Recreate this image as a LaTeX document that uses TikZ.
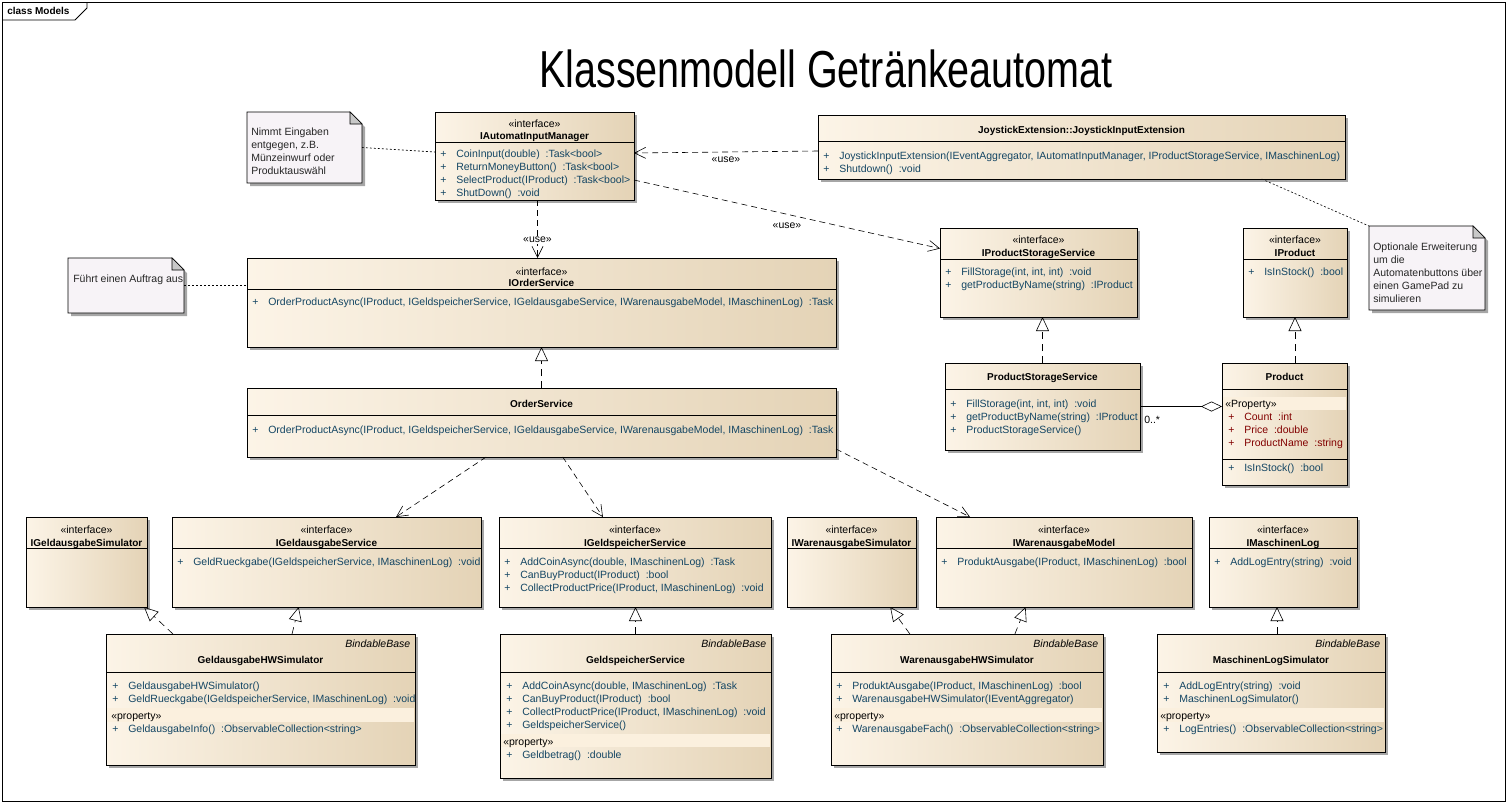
\documentclass[tikz,border=0pt]{standalone}
\usepackage{fontspec}
\setmainfont{Liberation Sans}
\newfontfamily\titlefont[FakeStretch=0.76]{Liberation Sans}
\usetikzlibrary{arrows.meta,calc,positioning,shadows}

\definecolor{clsL}{RGB}{252,244,231}
\definecolor{clsR}{RGB}{228,211,182}
\definecolor{notebg}{RGB}{247,243,247}
\definecolor{foldgray}{RGB}{200,200,200}
\definecolor{opcol}{RGB}{20,70,100}
\definecolor{attrcol}{RGB}{130,0,0}
\definecolor{bandcol}{RGB}{251,240,222}

\newcommand{\umlfont}{\fontsize{10.5}{13}\selectfont}
\newcommand{\namefont}{\fontsize{10}{13}\selectfont\bfseries}
\newcommand{\vis}{\makebox[16pt][l]{+}}

\begin{document}
\begin{tikzpicture}[x=1pt, y=-1pt, font=\umlfont, line width=0.6pt,
  cls/.style={draw, line width=0.8pt, left color=clsL, right color=clsR,
    anchor=north west, inner sep=0pt, outer sep=0pt,
    drop shadow={shadow xshift=3pt, shadow yshift=-3pt, fill=black!35, opacity=1}},
  notebox/.style={anchor=north west, inner sep=0pt, outer sep=0pt},
  notepaper/.style={fill=notebg, draw, line width=0.8pt,
    drop shadow={shadow xshift=3pt, shadow yshift=-3pt, fill=black!35, opacity=1}},
  notetext/.style={anchor=north west, inner sep=0pt, align=left, text=black!85},
  stereo/.style={anchor=base, inner sep=0pt},
  cname/.style={anchor=base, inner sep=0pt, font=\namefont},
  bindable/.style={anchor=base east, inner sep=0pt, font=\umlfont\itshape},
  ops/.style={anchor=north west, inner sep=0pt, align=left, text=opcol},
  attrs/.style={anchor=north west, inner sep=0pt, align=left, text=attrcol},
  propname/.style={anchor=base west, inner sep=0pt},
  divider/.style={line width=0.8pt},
  propband/.style={fill=bandcol},
  uselbl/.style={inner sep=1pt},
  depend/.style={dash pattern=on 6pt off 4pt, -{Straight Barb[length=11pt, width=11pt]}},
  realize/.style={dash pattern=on 7pt off 5pt, -{Triangle[open, length=14pt, width=13pt]}},
  aggreg/.style={-{Diamond[open, length=21pt, width=10pt]}},
  notelink/.style={dash pattern=on 2pt off 2pt}]

  \useasboundingbox (0,0) rectangle (1509,804);

  % frame
  \draw[line width=0.8pt] (2,2) rectangle (1505,801);
  \draw[line width=0.8pt] (2,20) -- (75,20) -- (87,8) -- (87,2);
  \node (frametag) at (7,14.5) [anchor=base west, inner sep=0pt, font=\namefont] {class Models};

  \node (title) at (826,87) [anchor=base, inner sep=0pt, font={\titlefont\fontsize{52}{60}\selectfont}] {Klassenmodell Getränkeautomat};

  % notes
  \node (note1) at (247,112) [notebox, minimum width=115pt, minimum height=71pt] {};
  \node (note2) at (1369,226) [notebox, minimum width=116pt, minimum height=84pt] {};
  \node (note3) at (68,258) [notebox, minimum width=116pt, minimum height=55pt] {};
  \foreach \n in {note1,note2,note3} {
    \filldraw[notepaper] (\n.north west) -- ([xshift=-12pt]\n.north east) -- ([yshift=-12pt]\n.north east)
      -- (\n.south east) -- (\n.south west) -- cycle;
    \filldraw[fill=foldgray] ([xshift=-12pt]\n.north east) -- ([xshift=-12pt, yshift=-12pt]\n.north east)
      -- ([yshift=-12pt]\n.north east) -- cycle;
  }
  \node (note1-txt) at (251,126.4) [notetext] {\strut Nimmt Eingaben\\entgegen, z.B.\\Münzeinwurf oder\\Produktauswähl};
  \node (note2-txt) at (1373,241.4) [notetext] {\strut Optionale Erweiterung\\um die\\Automatenbuttons über\\einen GamePad zu\\simulieren};
  \node (note3-txt) at (73,273.4) [notetext] {\strut Führt einen Auftrag aus};

  % IAutomatInputManager
  \node (ioim) at (435,112) [cls, minimum width=199pt, minimum height=88pt] {};
  \node (ioim-st) at (534.5,127.3) [stereo] {«interface»};
  \node (ioim-nm) at (534.5,139.8) [cname] {IAutomatInputManager};
  \draw[divider] (435,142.3) -- (634,142.3);
  \node (ioim-op) at (440,147.7) [ops] {\strut\vis CoinInput(double)~~:Task<bool>\\\vis ReturnMoneyButton()~~:Task<bool>\\\vis SelectProduct(IProduct)~~:Task<bool>\\\vis ShutDown()~~:void};

  % JoystickInputExtension
  \node (joy) at (818,115) [cls, minimum width=527pt, minimum height=64pt] {};
  \node (joy-nm) at (1081.5,133.5) [cname] {JoystickExtension::JoystickInputExtension};
  \draw[divider] (818,141.7) -- (1345,141.7);
  \node (joy-op) at (823,150.4) [ops] {\strut\vis JoystickInputExtension(IEventAggregator, IAutomatInputManager, IProductStorageService, IMaschinenLog)\\\vis Shutdown()~~:void};

  % IProductStorageService
  \node (ipss) at (940,228) [cls, minimum width=197pt, minimum height=89pt] {};
  \node (ipss-st) at (1038.5,243.7) [stereo] {«interface»};
  \node (ipss-nm) at (1038.5,256.8) [cname] {IProductStorageService};
  \draw[divider] (940,259.3) -- (1137,259.3);
  \node (ipss-op) at (945,266.1) [ops] {\strut\vis FillStorage(int, int, int)~~:void\\\vis getProductByName(string)~~:IProduct};

  % IProduct
  \node (iprod) at (1243,228) [cls, minimum width=104pt, minimum height=89pt] {};
  \node (iprod-st) at (1295,243.7) [stereo] {«interface»};
  \node (iprod-nm) at (1295,256.8) [cname] {IProduct};
  \draw[divider] (1243,259.3) -- (1347,259.3);
  \node (iprod-op) at (1248,266.1) [ops] {\strut\vis IsInStock()~~:bool};

  % ProductStorageService
  \node (pss) at (945,363) [cls, minimum width=195pt, minimum height=87pt] {};
  \node (pss-nm) at (1042.5,380.5) [cname] {ProductStorageService};
  \draw[divider] (945,389) -- (1140,389);
  \node (pss-op) at (950,397.7) [ops] {\strut\vis FillStorage(int, int, int)~~:void\\\vis getProductByName(string)~~:IProduct\\\vis ProductStorageService()};

  % Product
  \node (prod) at (1222,363) [cls, minimum width=125pt, minimum height=122pt] {};
  \node (prod-nm) at (1284.5,380.5) [cname] {Product};
  \draw[divider] (1222,389) -- (1347,389);
  \fill[propband] (1223,397) rectangle (1346,410);
  \node (prod-pr) at (1225,407.5) [propname] {«Property»};
  \node (prod-at) at (1228,411.4) [attrs] {\strut\vis Count~~:int\\\vis Price~~:double\\\vis ProductName~~:string};
  \draw[divider] (1222,459) -- (1347,459);
  \node (prod-op) at (1228,462.4) [ops] {\strut\vis IsInStock()~~:bool};

  % IOrderService
  \node (iord) at (247,258) [cls, minimum width=589pt, minimum height=89pt] {};
  \node (iord-st) at (541.5,275) [stereo] {«interface»};
  \node (iord-nm) at (541.5,286.5) [cname] {IOrderService};
  \draw[divider] (247,289.3) -- (836,289.3);
  \node (iord-op) at (252,296.1) [ops] {\strut\vis OrderProductAsync(IProduct, IGeldspeicherService, IGeldausgabeService, IWarenausgabeModel, IMaschinenLog)~~:Task};

  % OrderService
  \node (ord) at (247,388) [cls, minimum width=589pt, minimum height=69pt] {};
  \node (ord-nm) at (541.5,407.5) [cname] {OrderService};
  \draw[divider] (247,415) -- (836,415);
  \node (ord-op) at (252,424.4) [ops] {\strut\vis OrderProductAsync(IProduct, IGeldspeicherService, IGeldausgabeService, IWarenausgabeModel, IMaschinenLog)~~:Task};

  % interfaces, bottom row
  \node (igsim) at (26,517) [cls, minimum width=121pt, minimum height=90pt] {};
  \node (igsim-st) at (86.5,533.7) [stereo] {«interface»};
  \node (igsim-nm) at (86.5,546.2) [cname] {IGeldausgabeSimulator};
  \draw[divider] (26,548.3) -- (147,548.3);

  \node (igsvc) at (172,517) [cls, minimum width=309pt, minimum height=90pt] {};
  \node (igsvc-st) at (326.5,533.7) [stereo] {«interface»};
  \node (igsvc-nm) at (326.5,546.2) [cname] {IGeldausgabeService};
  \draw[divider] (172,548.3) -- (481,548.3);
  \node (igsvc-op) at (177,555.6) [ops] {\strut\vis GeldRueckgabe(IGeldspeicherService, IMaschinenLog)~~:void};

  \node (igsp) at (499,517) [cls, minimum width=272pt, minimum height=90pt] {};
  \node (igsp-st) at (635,533.7) [stereo] {«interface»};
  \node (igsp-nm) at (635,546.2) [cname] {IGeldspeicherService};
  \draw[divider] (499,548.3) -- (771,548.3);
  \node (igsp-op) at (504,555.6) [ops] {\strut\vis AddCoinAsync(double, IMaschinenLog)~~:Task\\\vis CanBuyProduct(IProduct)~~:bool\\\vis CollectProductPrice(IProduct, IMaschinenLog)~~:void};

  \node (iwsim) at (787,517) [cls, minimum width=129pt, minimum height=90pt] {};
  \node (iwsim-st) at (851.5,533.7) [stereo] {«interface»};
  \node (iwsim-nm) at (851.5,546.2) [cname] {IWarenausgabeSimulator};
  \draw[divider] (787,548.3) -- (916,548.3);

  \node (iwmod) at (936,517) [cls, minimum width=256pt, minimum height=90pt] {};
  \node (iwmod-st) at (1064,533.7) [stereo] {«interface»};
  \node (iwmod-nm) at (1064,546.2) [cname] {IWarenausgabeModel};
  \draw[divider] (936,548.3) -- (1192,548.3);
  \node (iwmod-op) at (941,555.6) [ops] {\strut\vis ProduktAusgabe(IProduct, IMaschinenLog)~~:bool};

  \node (imlog) at (1209,517) [cls, minimum width=148pt, minimum height=90pt] {};
  \node (imlog-st) at (1283,533.7) [stereo] {«interface»};
  \node (imlog-nm) at (1283,546.2) [cname] {IMaschinenLog};
  \draw[divider] (1209,548.3) -- (1357,548.3);
  \node (imlog-op) at (1214,555.6) [ops] {\strut\vis AddLogEntry(string)~~:void};

  % implementations, bottom row
  \node (ghws) at (106,634) [cls, minimum width=309pt, minimum height=131pt] {};
  \node (ghws-bb) at (410.5,647.5) [bindable] {BindableBase};
  \node (ghws-nm) at (260.5,663.5) [cname] {GeldausgabeHWSimulator};
  \draw[divider] (106,672) -- (415,672);
  \node (ghws-op) at (112,680.4) [ops] {\strut\vis GeldausgabeHWSimulator()\\\vis GeldRueckgabe(IGeldspeicherService, IMaschinenLog)~~:void};
  \fill[propband] (107,708) rectangle (414,722);
  \node (ghws-pr) at (111,719) [propname] {«property»};
  \node (ghws-pp) at (112,723.4) [ops] {\strut\vis GeldausgabeInfo()~~:ObservableCollection<string>};

  \node (gsvc) at (500,634) [cls, minimum width=271pt, minimum height=144pt] {};
  \node (gsvc-bb) at (766.5,647.5) [bindable] {BindableBase};
  \node (gsvc-nm) at (635.5,663.5) [cname] {GeldspeicherService};
  \draw[divider] (500,672) -- (771,672);
  \node (gsvc-op) at (506,680.4) [ops] {\strut\vis AddCoinAsync(double, IMaschinenLog)~~:Task\\\vis CanBuyProduct(IProduct)~~:bool\\\vis CollectProductPrice(IProduct, IMaschinenLog)~~:void\\\vis GeldspeicherService()};
  \fill[propband] (501,734) rectangle (770,747);
  \node (gsvc-pr) at (503,745) [propname] {«property»};
  \node (gsvc-pp) at (506,749.4) [ops] {\strut\vis Geldbetrag()~~:double};

  \node (whws) at (831,634) [cls, minimum width=272pt, minimum height=131pt] {};
  \node (whws-bb) at (1098.5,647.5) [bindable] {BindableBase};
  \node (whws-nm) at (967,663.5) [cname] {WarenausgabeHWSimulator};
  \draw[divider] (831,672) -- (1103,672);
  \node (whws-op) at (836,680.4) [ops] {\strut\vis ProduktAusgabe(IProduct, IMaschinenLog)~~:bool\\\vis WarenausgabeHWSimulator(IEventAggregator)};
  \fill[propband] (832,708) rectangle (1102,722);
  \node (whws-pr) at (834,719) [propname] {«property»};
  \node (whws-pp) at (836,723.4) [ops] {\strut\vis WarenausgabeFach()~~:ObservableCollection<string>};

  \node (mlsim) at (1157,634) [cls, minimum width=228pt, minimum height=118pt] {};
  \node (mlsim-bb) at (1380.5,647.5) [bindable] {BindableBase};
  \node (mlsim-nm) at (1271,663.5) [cname] {MaschinenLogSimulator};
  \draw[divider] (1157,672) -- (1385,672);
  \node (mlsim-op) at (1163,680.4) [ops] {\strut\vis AddLogEntry(string)~~:void\\\vis MaschinenLogSimulator()};
  \fill[propband] (1158,708) rectangle (1384,722);
  \node (mlsim-pr) at (1160,719) [propname] {«property»};
  \node (mlsim-pp) at (1163,723.4) [ops] {\strut\vis LogEntries()~~:ObservableCollection<string>};

  % note links
  \draw[notelink] (note1.east) -- ([yshift=4pt]ioim.west);
  \draw[notelink] (note3.east) -- (note3.east -| iord.west);
  \draw[notelink] ($(joy.south west)!0.842!(joy.south east)$) -- (note2.north west);

  % use dependencies
  \draw[depend] ([yshift=-4pt]joy.west) -- ([yshift=3pt]ioim.east)
    node (use1) [uselbl, midway, below=4pt] {«use»};
  \draw[depend] ([xshift=3pt]ioim.south) -- ([xshift=3pt]ioim.south |- iord.north)
    node (use2) [uselbl, pos=0.69, fill=white] {«use»};
  \draw[depend] ([yshift=-24pt]ioim.east) -- ([yshift=24pt]ipss.west)
    node (use3) [uselbl, midway, below=7pt] {«use»};
  \draw[depend] ($(ord.south west)!0.406!(ord.south east)$) -- ($(igsvc.north west)!0.725!(igsvc.north east)$);
  \draw[depend] ($(ord.south west)!0.536!(ord.south east)$) -- ($(igsp.north west)!0.382!(igsp.north east)$);
  \draw[depend] ([yshift=8pt]ord.south east) -- ($(iwmod.north west)!0.133!(iwmod.north east)$);

  % realizations
  \draw[realize] (ord.north) -- (iord.south);
  \draw[realize] (pss.north) -- (pss.north |- ipss.south);
  \draw[realize] (iprod.south |- prod.north) -- (iprod.south);
  \draw[realize] (gsvc.north) -- (gsvc.north |- igsp.south);
  \draw[realize] ([xshift=67pt]ghws.north west) -- ([xshift=-3pt]igsim.south east);
  \draw[realize] ($(ghws.north west)!0.602!(ghws.north east)$) -- ($(igsvc.south west)!0.41!(igsvc.south east)$);
  \draw[realize] ($(whws.north west)!0.29!(whws.north east)$) -- ($(iwsim.south west)!0.8!(iwsim.south east)$);
  \draw[realize] ($(whws.north west)!0.676!(whws.north east)$) -- ($(iwmod.south west)!0.35!(iwmod.south east)$);
  \draw[realize] ([xshift=6pt]mlsim.north) -- ([xshift=-6pt]imlog.south);

  % aggregation
  \draw[aggreg] (pss.east) -- (pss.east -| prod.west)
    node (mult) [pos=0, anchor=north west, xshift=4pt, yshift=-9.5pt, inner sep=0pt] {0..*};
\end{tikzpicture}
\end{document}
